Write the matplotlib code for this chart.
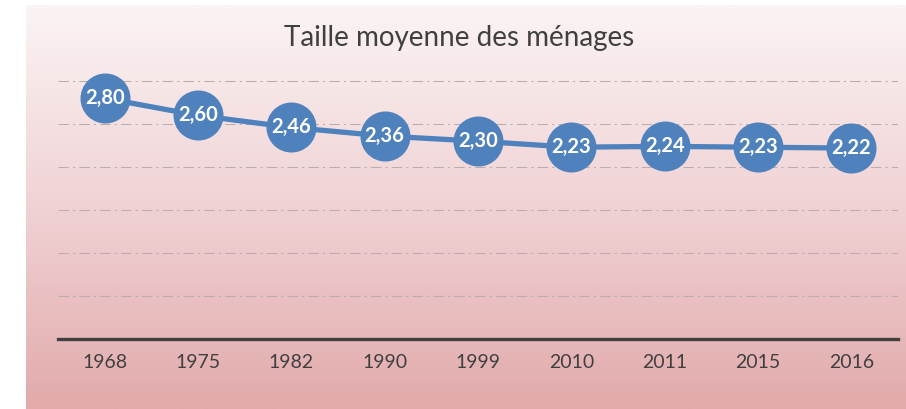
import numpy as np
import matplotlib
matplotlib.use('Agg')
import matplotlib.pyplot as plt
from matplotlib.colors import LinearSegmentedColormap

# === data ===============================
years = ['1968', '1975', '1982', '1990', '1999', '2010', '2011', '2015', '2016']
taille = [2.80, 2.60, 2.46, 2.36, 2.30, 2.23, 2.24, 2.23, 2.22]

plt.rcParams['font.family'] = ['Lato', 'DejaVu Sans']

fig = plt.figure(figsize=(9.06, 4.09), dpi=100)

# gradient background panel
bg = fig.add_axes([26 / 906, 0, 880 / 906, 404 / 409])
cmap = LinearSegmentedColormap.from_list('bg', ['#FBF4F4', '#F0D2D4', '#E2AAAB'])
grad = np.linspace(0, 1, 256).reshape(-1, 1)
bg.imshow(grad, aspect='auto', cmap=cmap, extent=[0, 1, 0, 1], origin='upper')
bg.set_axis_off()

ax = fig.add_axes([58 / 906, 1 - 339 / 409, 840 / 906, 3.4 * 86 / 409])
ax.patch.set_alpha(0)

x = np.arange(len(years))
ax.plot(x, taille, color='#4F81BD', lw=3.8, zorder=3,
        marker='o', markersize=35, markerfacecolor='#4F81BD', markeredgecolor='#4F81BD')

for xi, v in zip(x, taille):
    ax.text(xi, v, ('%.2f' % v).replace('.', ','), color='white', fontsize=14.5,
            fontweight='bold', ha='center', va='center', zorder=4)

for gy in [0.5, 1.0, 1.5, 2.0, 2.5, 3.0]:
    ax.axhline(gy, color='#BBADAE', lw=0.75, linestyle=(0, (10, 4, 2, 4)), zorder=1)

ax.set_xlim(-0.5, len(years) - 0.5)
ax.set_ylim(0, 3.4)
ax.set_yticks([])
ax.set_xticks(x)
ax.set_xticklabels(years, fontsize=14, color='#404040')
ax.tick_params(axis='x', length=0, pad=11)
for s in ['top', 'right', 'left']:
    ax.spines[s].set_visible(False)
ax.spines['bottom'].set_color('#404040')
ax.spines['bottom'].set_linewidth(2.4)

fig.text(459 / 906, 1 - 38 / 409, 'Taille moyenne des ménages', fontsize=20,
         color='#404040', ha='center', va='center')

fig.savefig('out.png', dpi=100)
